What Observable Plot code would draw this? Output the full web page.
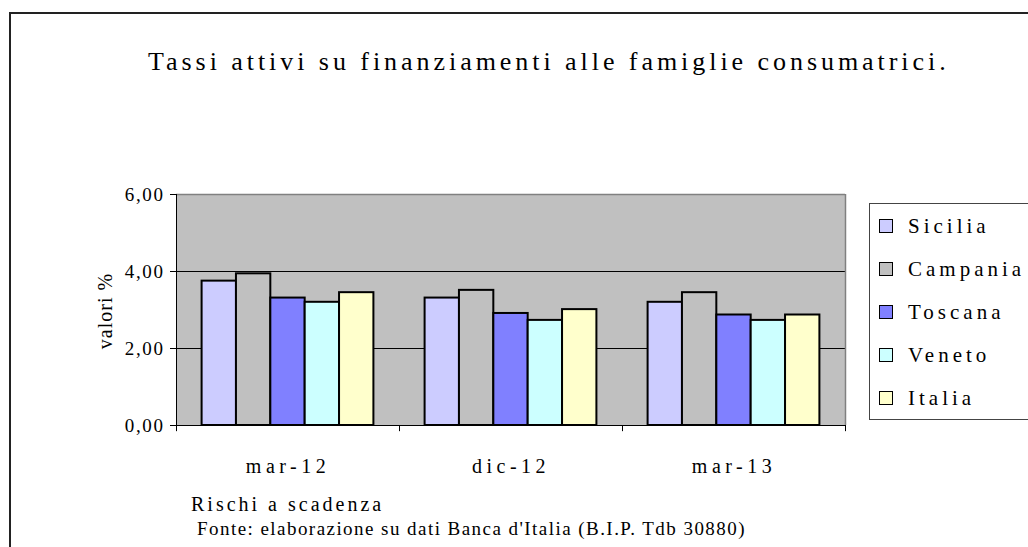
<!DOCTYPE html>
<html><head><meta charset="utf-8">
<script src="https://cdn.jsdelivr.net/npm/d3@7"></script>
<script src="https://cdn.jsdelivr.net/npm/@observablehq/plot@0.6"></script>
<style>
body{margin:0;background:#fff;font-family:"Liberation Serif",serif;color:#000;}
#wrap{position:relative;width:1028px;height:547px;overflow:hidden;}
#outer{position:absolute;left:9px;top:12px;width:1100px;height:600px;border:2px solid #222;box-sizing:border-box;}
#chart{position:absolute;left:0;top:0;}
#title{position:absolute;left:148px;top:47px;font-size:26px;letter-spacing:3.95px;white-space:nowrap;}
#ylab{position:absolute;left:105px;top:311px;font-size:20px;letter-spacing:1px;white-space:nowrap;transform:translate(-50%,-50%) rotate(-90deg);}
#legend{position:absolute;left:869px;top:203px;width:170px;height:217px;border:1px solid #444;background:#fff;box-sizing:border-box;}
.item{position:absolute;left:9px;height:24px;display:flex;align-items:center;font-size:21px;letter-spacing:4px;white-space:nowrap;}
.sw{width:14px;height:14px;border:1.5px solid #000;margin-right:15px;box-sizing:border-box;}
.note{position:absolute;font-size:19px;white-space:nowrap;}
</style>
</head><body>
<div id="wrap">
  <div id="outer"></div>
  <div id="chart"></div>
  <div id="title"></div>
  <div id="ylab"></div>
  <div id="legend"></div>
  <div class="note" id="n1" style="left:191px;top:493px;letter-spacing:3px;font-size:20px;"></div>
  <div class="note" id="n2" style="left:197px;top:518px;letter-spacing:1.45px;"></div>
</div>
<script>
const titleText = "Tassi attivi su finanziamenti alle famiglie consumatrici.";
const yLabel = "valori %";
const note1 = "Rischi a scadenza";
const note2 = "Fonte: elaborazione su dati Banca d'Italia (B.I.P. Tdb 30880)";

const periods = ["mar-12", "dic-12", "mar-13"];
const regions = ["Sicilia", "Campania", "Toscana", "Veneto", "Italia"];
const colors = ["#CCCCFF", "#C0C0C0", "#8080FF", "#CCFFFF", "#FFFFCC"];
const sicilia = [3.75, 3.31, 3.20];
const campania = [3.94, 3.51, 3.45];
const toscana = [3.31, 2.91, 2.87];
const veneto = [3.20, 2.73, 2.73];
const italia = [3.45, 3.01, 2.87];
const yTicks = [0, 2, 4, 6];

const series = [sicilia, campania, toscana, veneto, italia];
const rows = periods.flatMap((p, i) => regions.map((r, j) => ({period: p, region: r, value: series[j][i]})));

const W = 1028, H = 547;
const mL = 175, mR = 183, mT = 194, mB = 122;
const pOuter = 0.745;
const facetW = Math.floor((W - mL - mR) / periods.length);
const step = facetW / (regions.length + 2 * pOuter);
const edgeOffset = step * (pOuter + 0.5);
const firstRegion = regions[0];
const lastRegion = regions[regions.length - 1];
const firstPeriod = periods[0];
const lastPeriod = periods[periods.length - 1];
const isFirst = d => d.period === firstPeriod && d.region === firstRegion;
const isLast = d => d.period === lastPeriod && d.region === lastRegion;

const chart = Plot.plot({
  width: W, height: H,
  marginLeft: mL, marginRight: mR, marginTop: mT, marginBottom: mB,
  style: {fontFamily: "Liberation Serif", fontSize: "19px", color: "#000", background: "transparent", overflow: "visible"},
  fx: {domain: periods, padding: 0, round: true, label: null, tickSize: 0, tickPadding: 33},
  x: {domain: regions, paddingInner: 0, paddingOuter: pOuter, axis: null, round: false},
  y: {domain: [0, 6], ticks: yTicks, tickFormat: d => d.toFixed(2).replace(".", ","), tickSize: 6, tickPadding: 6,
      label: null},
  color: {domain: regions, range: colors},
  marks: [
    Plot.frame({fill: "#C0C0C0", stroke: "#C0C0C0"}),
    Plot.ruleY([2, 4], {stroke: "#000"}),
    Plot.ruleY([6], {stroke: "#808080", strokeWidth: 1.5}),
    Plot.ruleX(rows, {filter: isLast, fx: "period", x: "region", dx: edgeOffset, y1: 0, y2: 6, stroke: "#808080", strokeWidth: 1.5}),
    Plot.barY(rows, {fx: "period", x: "region", y: "value", fill: "region", stroke: "#000", strokeWidth: 2}),
    Plot.ruleY([0], {stroke: "#000"}),
    Plot.ruleX(rows, {filter: isFirst, fx: "period", x: "region", dx: -edgeOffset, y1: 0, y2: 6, stroke: "#000"}),
    Plot.ruleX(rows, {filter: d => d.region === firstRegion, fx: "period", x: "region", dx: -edgeOffset, y1: -0.16, y2: 0, stroke: "#000"}),
    Plot.ruleX(rows, {filter: isLast, fx: "period", x: "region", dx: edgeOffset, y1: -0.16, y2: 0, stroke: "#000"})
  ]
});
chart.querySelectorAll("text").forEach(t => {
  if (periods.includes(t.textContent)) { t.setAttribute("letter-spacing", "4.5"); t.setAttribute("font-size", "20"); }
  else t.setAttribute("letter-spacing", "1.6");
});
document.getElementById("chart").appendChild(chart);

document.getElementById("title").textContent = titleText;
document.getElementById("ylab").textContent = yLabel;
document.getElementById("n1").textContent = note1;
document.getElementById("n2").textContent = note2;

const legend = document.getElementById("legend");
const legendTops = [10, 53, 96, 139, 182];
regions.forEach((r, i) => {
  const it = document.createElement("div");
  it.className = "item";
  it.style.top = legendTops[i] + "px";
  const sw = document.createElement("div");
  sw.className = "sw";
  sw.style.background = colors[i];
  const tx = document.createElement("span");
  tx.textContent = r;
  it.appendChild(sw); it.appendChild(tx);
  legend.appendChild(it);
});
</script>
</body></html>
